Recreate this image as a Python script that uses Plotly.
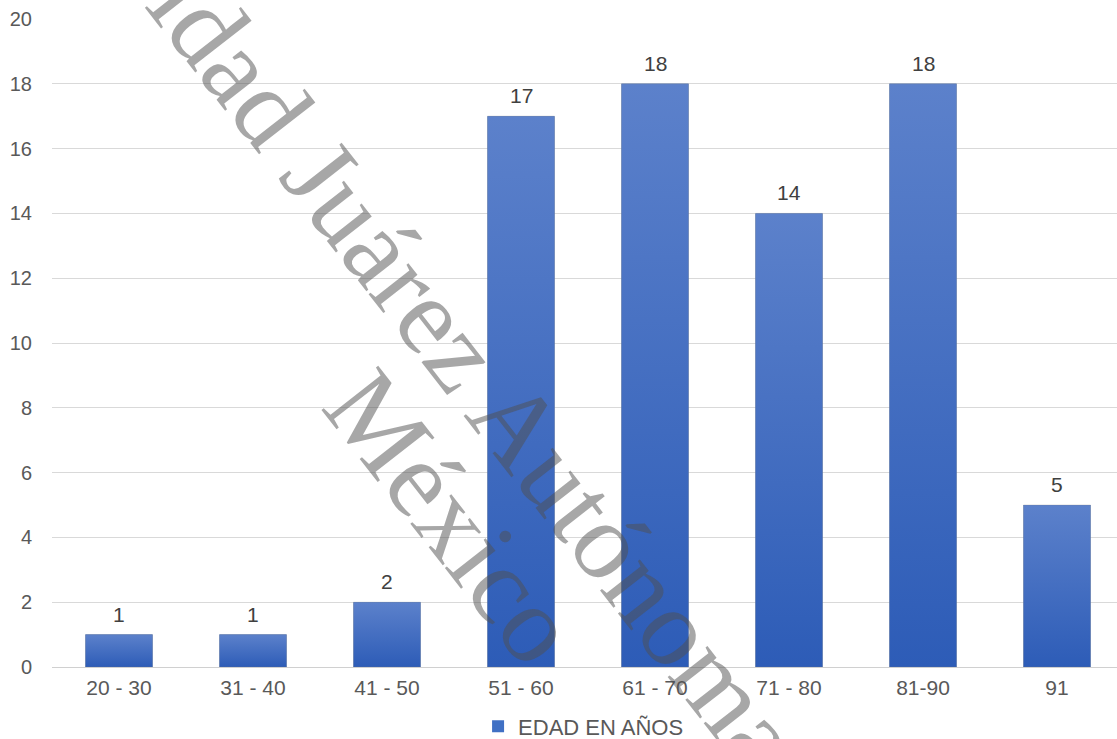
import plotly.graph_objects as go

categories = ["20 - 30", "31 - 40", "41 - 50", "51 - 60", "61 - 70", "71 - 80", "81-90", "91"]
values = [1, 1, 2, 17, 18, 14, 18, 5]
series_name = "EDAD EN AÑOS"
y_ticks = [0, 2, 4, 6, 8, 10, 12, 14, 16, 18, 20]

W, H = 1117, 739
ML, MR, MT, MB = 52, 0, 19, 72
BAR_W = 0.5
TOP_C = "#5c81cb"
BOT_C = "#2d5cb7"

fig = go.Figure()
idx = list(range(len(categories)))

fig.add_trace(go.Bar(
    x=idx, y=values, width=BAR_W, name=series_name,
    marker=dict(color="#4070c4", line=dict(width=0)),
    hoverinfo="skip",
))

# gradient overlays per bar
for i, v in zip(idx, values):
    fig.add_trace(go.Scatter(
        x=[i - BAR_W / 2, i - BAR_W / 2, i + BAR_W / 2, i + BAR_W / 2, i - BAR_W / 2],
        y=[0, v, v, 0, 0], mode="lines", fill="toself",
        line=dict(width=1, color="rgba(120,120,120,0.25)"),
        fillgradient=dict(type="vertical", colorscale=[[0, BOT_C], [1, TOP_C]]),
        showlegend=False, hoverinfo="skip",
    ))

# data labels
for i, v in zip(idx, values):
    fig.add_annotation(x=i, y=v, text=str(v), showarrow=False, xanchor="center",
                       yanchor="bottom", yshift=7,
                       font=dict(family="Liberation Sans, Arial", size=21, color="#404040"))

def px2paper(px, py):
    return (px - ML) / (W - ML - MR), (H - MB - py) / (H - MT - MB)

wm_font = dict(family="Liberation Serif, Times New Roman, serif", size=110, color="rgba(79,79,79,0.5)")
x1, y1 = px2paper(527, 437)
x2, y2 = px2paper(452, 517)
fig.add_annotation(text="Universidad Juárez Autónoma de Tabasco", xref="paper", yref="paper",
                   x=x1, y=y1, xanchor="center", yanchor="middle", textangle=52,
                   showarrow=False, font=wm_font)
fig.add_annotation(text="México", xref="paper", yref="paper",
                   x=x2, y=y2, xanchor="center", yanchor="middle", textangle=52,
                   showarrow=False, font=wm_font)

fig.update_layout(
    width=W, height=H,
    margin=dict(l=ML, r=MR, t=MT, b=MB, pad=0),
    paper_bgcolor="white", plot_bgcolor="white",
    showlegend=True,
    legend=dict(orientation="h", xref="container", yref="container",
                x=0.428, y=0.017, xanchor="left", yanchor="middle",
                font=dict(family="Liberation Sans, Arial", size=22, color="#595959"),
                itemwidth=30, bgcolor="rgba(0,0,0,0)"),
    xaxis=dict(tickmode="array", tickvals=idx, ticktext=categories,
               range=[-0.5, -0.5 + (W - ML - MR) / 134.0],
               showgrid=False, zeroline=False, showline=False, ticks="",
               tickfont=dict(family="Liberation Sans, Arial", size=21, color="#595959"),
               ticklabelstandoff=6),
    yaxis=dict(range=[0, 20], tickvals=y_ticks, showgrid=True, gridcolor="#d9d9d9", gridwidth=1,
               zeroline=True, zerolinecolor="#d0d0d0", zerolinewidth=1,
               showline=False, ticks="",
               tickfont=dict(family="Liberation Sans, Arial", size=20, color="#595959"),
               ticklabelstandoff=19),
)

fig.write_html("out.html")
